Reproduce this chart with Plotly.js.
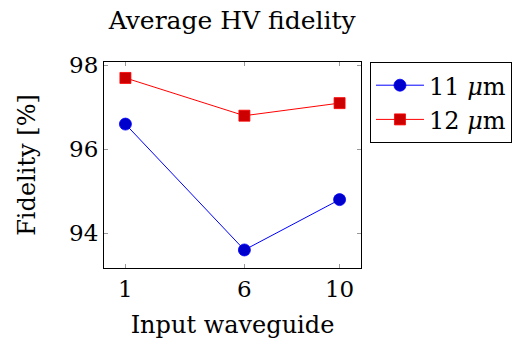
<!DOCTYPE html>
<html>
<head>
<meta charset="utf-8">
<script src="https://cdn.plot.ly/plotly-3.0.1.min.js"></script>
<style>html,body{margin:0;padding:0;background:#fff;}#chart{width:516px;height:345px;}</style>
</head>
<body>
<div id="chart"></div>
<script>
const waveguides = [1, 6, 10];
const fid11 = [96.6, 93.6, 94.8];
const fid12 = [97.7, 96.8, 97.1];
const xTicks = [1, 6, 10];
const yTicks = [94, 96, 98];
const seriesNames = ['11 <i>μ</i>m', '12 <i>μ</i>m'];

const FONT = 'DejaVu Serif, Liberation Serif, serif';

const traces = [
  {
    x: waveguides, y: fid11, name: seriesNames[0], mode: 'lines+markers',
    line: {color: '#0000ff', width: 1},
    marker: {symbol: 'circle', size: 12, color: '#0000cc', line: {color: '#0000ff', width: 0.8}}
  },
  {
    x: waveguides, y: fid12, name: seriesNames[1], mode: 'lines+markers',
    line: {color: '#ff0000', width: 1},
    marker: {symbol: 'square', size: 11, color: '#cc0000', line: {color: '#ff0000', width: 0.8}}
  }
];

const layout = {
  width: 516, height: 345,
  margin: {l: 103.5, r: 155, t: 62, b: 77},
  paper_bgcolor: '#fff', plot_bgcolor: '#fff',
  font: {family: FONT, size: 23, color: '#000'},
  showlegend: true,
  title: {text: 'Average HV fidelity', x: 0.45, xanchor: 'center', y: 0.94, yanchor: 'middle', font: {family: FONT, size: 25}},
  xaxis: {
    range: [0.1, 10.9], tickvals: xTicks, ticktext: xTicks.map(String),
    ticks: 'inside', ticklen: 4, tickcolor: '#999', tickwidth: 1,
    showline: true, linecolor: '#000', linewidth: 1, mirror: 'ticks',
    showgrid: false, zeroline: false, tickfont: {size: 23},
    title: {text: 'Input waveguide', standoff: 15, font: {family: FONT, size: 24}}
  },
  yaxis: {
    range: [93.17, 98.08], tickvals: yTicks, ticktext: yTicks.map(String),
    ticks: 'inside', ticklen: 4, tickcolor: '#999', tickwidth: 1,
    showline: true, linecolor: '#000', linewidth: 1, mirror: 'ticks',
    showgrid: false, zeroline: false, tickfont: {size: 23},
    title: {text: 'Fidelity [%]', standoff: 26, font: {family: FONT, size: 24}}
  },
  legend: {
    xref: 'container', yref: 'container',
    x: 0.717, xanchor: 'left', y: 0.82, yanchor: 'top',
    bordercolor: '#000', borderwidth: 1, bgcolor: '#fff',
    itemwidth: 48,
    font: {family: FONT, size: 24}
  }
};

Plotly.newPlot('chart', traces, layout, {displayModeBar: false, staticPlot: true});
</script>
</body>
</html>
